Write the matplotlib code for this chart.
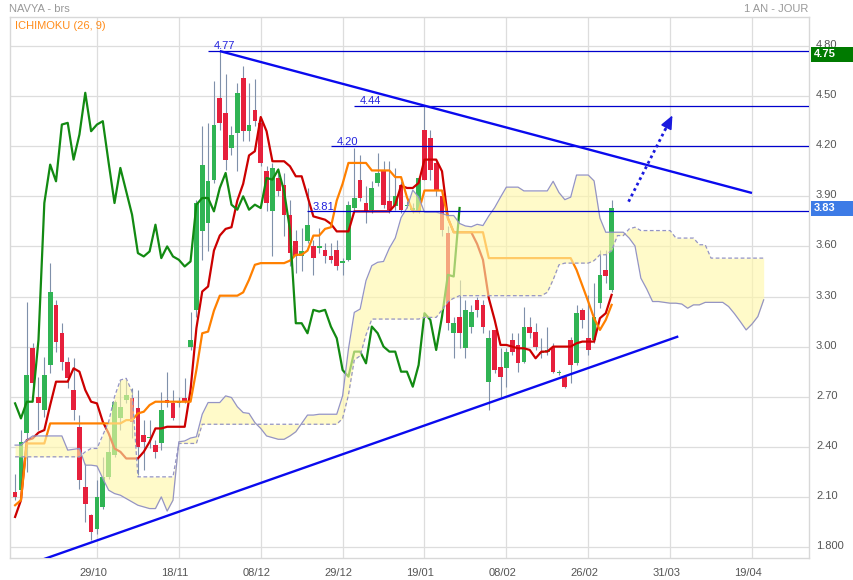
import numpy as np
import matplotlib
matplotlib.use('Agg')
import matplotlib.pyplot as plt
from matplotlib.patches import Rectangle
from matplotlib.transforms import ScaledTranslation

plt.rcParams['font.family'] = ['Liberation Sans', 'DejaVu Sans']

# ---------------- data ----------------
opens = [2.13, 2.14, 2.48, 2.99, 2.70, 2.62, 2.89, 3.25, 3.08, 2.91,
         2.74, 2.52, 2.16, 1.99, 1.91, 2.04, 2.22, 2.35, 2.57, 2.68,
         2.69, 2.63, 2.47, 2.45, 2.41, 2.42, 2.68, 2.66, 2.66, 2.69,
         3.00, 3.22, 3.69, 3.74, 4.00, 4.49, 4.40, 4.19, 4.28, 4.61,
         4.29, 4.42, 4.34, 4.05, 3.81, 4.01, 3.97, 3.79, 3.63, 3.54,
         3.63, 3.60, 3.59, 3.58, 3.54, 3.58, 3.50, 3.52, 3.83, 4.00,
         3.86, 3.82, 3.98, 4.05, 3.87, 3.84, 3.97, 3.84, 3.82, 3.81,
         4.30, 4.25, 4.10, 3.90, 3.68, 3.08, 3.18, 2.99, 3.12, 3.28,
         3.25, 2.79, 3.10, 2.88, 2.87, 3.04, 3.01, 2.91, 3.12, 3.09,
         2.96, 2.97, 3.00, 2.84, 2.82, 3.04, 2.90, 3.22, 3.05, 3.04,
         3.26, 3.46, 3.34]
highs = [2.24, 2.50, 3.27, 3.02, 2.82, 2.94, 3.50, 3.28, 3.14, 2.94,
         2.93, 2.59, 2.30, 2.00, 2.20, 2.34, 2.46, 2.68, 2.80, 2.80,
         2.75, 2.74, 2.56, 2.56, 2.44, 2.73, 2.85, 2.74, 2.70, 2.81,
         3.21, 3.88, 4.32, 4.34, 4.59, 4.77, 4.63, 4.32, 4.58, 4.68,
         4.58, 4.60, 4.36, 4.08, 4.10, 4.07, 4.04, 3.88, 3.70, 3.71,
         3.95, 3.64, 3.71, 3.62, 3.62, 3.64, 3.53, 3.87, 4.19, 4.15,
         3.96, 3.99, 4.16, 4.11, 4.11, 4.07, 3.99, 3.87, 3.86, 4.02,
         4.44, 4.30, 4.11, 3.92, 3.72, 3.18, 3.40, 3.28, 3.25, 3.30,
         3.28, 3.10, 3.10, 2.99, 2.99, 3.08, 3.08, 3.24, 3.18, 3.14,
         3.05, 3.12, 3.02, 2.86, 2.83, 3.06, 3.25, 3.23, 3.31, 3.38,
         3.58, 3.58, 3.88]
lows = [2.08, 2.12, 2.25, 2.75, 2.50, 2.58, 2.84, 2.97, 2.86, 2.75,
        2.56, 2.15, 1.95, 1.84, 1.88, 2.03, 2.21, 2.34, 2.50, 2.66,
        2.45, 2.23, 2.26, 2.39, 2.33, 2.38, 2.64, 2.56, 2.64, 2.66,
        2.98, 3.18, 3.52, 3.57, 3.98, 4.30, 4.06, 4.15, 4.05, 4.23,
        4.23, 4.32, 4.08, 3.81, 3.54, 3.90, 3.66, 3.48, 3.44, 3.45,
        3.62, 3.43, 3.56, 3.50, 3.50, 3.46, 3.43, 3.51, 3.82, 3.87,
        3.74, 3.80, 3.96, 3.83, 3.80, 3.82, 3.80, 3.83, 3.80, 3.80,
        4.00, 4.00, 3.90, 3.66, 3.10, 2.93, 2.99, 2.93, 3.08, 3.18,
        3.08, 2.62, 2.84, 2.70, 2.76, 2.95, 2.85, 2.90, 3.05, 2.98,
        2.93, 2.95, 2.84, 2.83, 2.75, 2.78, 2.89, 3.11, 2.95, 3.02,
        3.23, 3.38, 3.33]
closes = [2.10, 2.43, 2.83, 2.78, 2.66, 2.83, 3.33, 3.03, 2.91, 2.81,
          2.62, 2.20, 2.06, 1.89, 2.10, 2.22, 2.37, 2.67, 2.64, 2.71,
          2.55, 2.40, 2.43, 2.45, 2.37, 2.62, 2.66, 2.57, 2.67, 2.67,
          3.04, 3.86, 4.09, 3.99, 4.33, 4.34, 4.12, 4.27, 4.52, 4.29,
          4.33, 4.35, 4.10, 3.86, 4.07, 3.93, 3.79, 3.56, 3.54, 3.57,
          3.73, 3.53, 3.60, 3.54, 3.52, 3.48, 3.51, 3.85, 3.89, 3.89,
          3.81, 3.95, 4.04, 3.85, 3.82, 3.90, 3.82, 3.85, 3.83, 4.01,
          4.00, 4.06, 3.93, 3.70, 3.14, 3.14, 3.08, 3.22, 3.21, 3.22,
          3.12, 3.05, 2.86, 2.82, 2.97, 2.97, 2.90, 3.12, 3.08, 3.00,
          2.97, 2.97, 2.85, 2.85, 2.76, 2.89, 3.20, 3.16, 2.98, 3.18,
          3.43, 3.42, 3.83]

# Tenkan (9) and Kijun (26) lines
tenkan = [1.98, 2.08, 2.44, 2.45, 2.485, 2.50, 2.65, 2.79, 2.79, 2.79,
          2.87, 2.85, 2.74, 2.67, 2.66, 2.55, 2.48, 2.39, 2.37, 2.33,
          2.33, 2.33, 2.37, 2.43, 2.51, 2.51, 2.52, 2.52, 2.52, 2.52,
          2.74, 3.11, 3.33, 3.36, 3.575, 3.665, 3.705, 3.715, 3.875, 3.975,
          4.145, 4.17, 4.375, 4.29, 4.11, 4.11, 4.11, 4.08, 4.02, 4.02,
          3.90, 3.78, 3.77, 3.76, 3.735, 3.69, 3.69, 3.69, 3.81, 3.81,
          3.81, 3.81, 3.81, 3.81, 3.81, 3.85, 3.965, 3.95, 3.95, 3.98,
          4.12, 4.12, 4.12, 4.05, 3.77, 3.685, 3.685, 3.685, 3.685, 3.615,
          3.52, 3.29, 3.16, 3.01, 3.01, 3.00, 2.99, 2.99, 2.98, 2.93,
          2.97, 2.97, 3.00, 3.00, 3.00, 3.00, 3.02, 3.03, 3.03, 3.03,
          3.17, 3.20, 3.31]
kijun = [2.05, 2.08, 2.42, 2.42, 2.42, 2.42, 2.54, 2.54, 2.54, 2.54,
         2.54, 2.54, 2.54, 2.54, 2.54, 2.54, 2.54, 2.54, 2.54, 2.56,
         2.56, 2.60, 2.61, 2.65, 2.67, 2.67, 2.67, 2.67, 2.67, 2.67,
         2.67, 2.86, 3.08, 3.09, 3.215, 3.305, 3.305, 3.305, 3.305, 3.325,
         3.40, 3.49, 3.50, 3.50, 3.50, 3.50, 3.50, 3.515, 3.55, 3.55,
         3.575, 3.665, 3.665, 3.705, 3.715, 3.875, 3.975, 4.10, 4.10, 4.10,
         4.10, 4.055, 4.055, 4.055, 4.055, 4.015, 4.015, 3.895, 3.81, 3.81,
         3.935, 3.935, 3.935, 3.935, 3.77, 3.685, 3.685, 3.685, 3.685, 3.685,
         3.685, 3.53, 3.53, 3.53, 3.53, 3.53, 3.53, 3.53, 3.53, 3.53,
         3.53, 3.53, 3.53, 3.53, 3.53, 3.53, 3.46, 3.365, 3.27, 3.17,
         3.10, 3.16, 3.25]

# Senkou span A before the first drawn (tenkan+kijun)/2 value
senkou_a_early = [2.41, 2.41, 2.44, 2.465, 2.465, 2.465, 2.465, 2.465, 2.465, 2.38,
                  2.385, 2.39, 2.29, 2.29, 2.285, 2.21, 2.14, 2.12, 2.11, 2.09,
                  2.07, 2.05, 2.04, 2.03, 2.03, 2.10]
# Senkou span B (whole drawn range, incl. 26 periods ahead)
senkou_b = [2.34, 2.34, 2.34, 2.34, 2.34, 2.34, 2.34, 2.34, 2.34, 2.34,
            2.34, 2.34, 2.37, 2.39, 2.39, 2.47, 2.55, 2.70, 2.80, 2.81,
            2.73, 2.22, 2.22, 2.22, 2.22, 2.22, 2.22, 2.22, 2.42, 2.42,
            2.42, 2.42, 2.535, 2.535, 2.535, 2.535, 2.535, 2.535, 2.535, 2.535,
            2.535, 2.535, 2.535, 2.535, 2.535, 2.535, 2.535, 2.535, 2.535, 2.535,
            2.535, 2.535, 2.535, 2.535, 2.535, 2.535, 2.57, 2.71, 2.92, 2.945,
            3.07, 3.165, 3.165, 3.165, 3.165, 3.165, 3.165, 3.165, 3.165, 3.165,
            3.175, 3.175, 3.175, 3.22, 3.27, 3.29, 3.305, 3.305, 3.305, 3.305,
            3.305, 3.305, 3.305, 3.305, 3.305, 3.305, 3.305, 3.305, 3.305, 3.305,
            3.305, 3.325, 3.40, 3.49, 3.50, 3.50, 3.50, 3.50, 3.50, 3.515,
            3.55, 3.55, 3.575, 3.665, 3.665, 3.705, 3.715, 3.695, 3.695, 3.695,
            3.695, 3.695, 3.695, 3.65, 3.65, 3.65, 3.65, 3.61, 3.61, 3.53,
            3.53, 3.53, 3.53, 3.53, 3.53, 3.53, 3.53, 3.53, 3.53]

# horizontal support / resistance levels and where they start (bar index)
levels = [4.77, 4.44, 4.20, 3.81]
level_starts = [33.0, 58.0, 54.0, 49.9]

# trend lines (bar index, price)
upper_trend_x = [35, 126]
upper_trend_y = [4.77, 3.92]
lower_trend_x = [0, 113.4]
lower_trend_y = [1.667, 3.061]

# dotted projection arrow
arrow_x = [104.9, 112.4]
arrow_y = [3.868, 4.385]

tick_pos = [14, 28, 42, 56, 70, 84, 98, 112, 126]
tick_labels = ['29/10', '18/11', '08/12', '29/12', '19/01', '08/02', '26/02', '31/03', '19/04']
ytick_vals = [1.8, 2.1, 2.4, 2.7, 3.0, 3.3, 3.6, 3.9, 4.2, 4.5, 4.8]
ytick_labels = ['1.800', '2.10', '2.40', '2.70', '3.00', '3.30', '3.60', '3.90', '4.20', '4.50', '4.80']

last_tag = 3.83
high_tag = 4.75

# ---------------- figure ----------------
W, H = 854, 580
fig = plt.figure(figsize=(W / 100, H / 100), dpi=100)
ax = fig.add_axes([10 / W, 22 / H, 799 / W, 541 / H])

o = np.array(opens); h = np.array(highs); l = np.array(lows); c = np.array(closes)
n = len(c)
idx = np.arange(n)
tk = np.array(tenkan); kj = np.array(kijun)
span_a = np.concatenate([np.array(senkou_a_early), (tk + kj) / 2])
span_b = np.array(senkou_b)
jj = np.arange(len(span_b))

xmin, xmax = -0.87, 135.75
ax.set_xlim(xmin, xmax)
ax.set_ylim(1.734, 4.974)

# grid
ax.set_xticks(tick_pos)
ax.set_xticklabels(tick_labels)
ax.set_yticks(ytick_vals)
ax.set_yticklabels(ytick_labels)
ax.grid(True, color='#dddddd', lw=0.9, zorder=0)
ax.set_axisbelow(True)
for sp in ax.spines.values():
    sp.set_color('#d8d8d8')
    sp.set_linewidth(1.0)
ax.yaxis.tick_right()
ax.tick_params(axis='y', length=0, pad=5, labelsize=8, labelcolor='#555555')
ax.tick_params(axis='x', length=0, pad=7, labelsize=8, labelcolor='#555555')
xoffset = ScaledTranslation(-4 / 100, 0, fig.dpi_scale_trans)
for lbl in ax.get_xticklabels():
    lbl.set_transform(lbl.get_transform() + xoffset)
yoffset = ScaledTranslation(0, 2 / 100, fig.dpi_scale_trans)
for t in ax.yaxis.get_major_ticks():
    t.label2.set_transform(t.label2.get_transform() + yoffset)

# candles
green, red, wick = '#30b454', '#e6203c', '#7f90aa'
up = c >= o
ax.vlines(idx, l, h, color=wick, lw=0.8, zorder=2)
body_bottom = np.minimum(o, c)
body_h = np.maximum(np.abs(c - o), 0.008)
ax.bar(idx, body_h, bottom=body_bottom, width=0.8,
       color=np.where(up, green, red), linewidth=0, zorder=3)

# ichimoku lines
ax.plot(idx, tk, color='#cc0000', lw=1.6, zorder=4)
ax.plot(idx, kj, color='#ff8000', lw=1.6, zorder=4)
ax.plot(idx[:n - 26], c[26:], color='#128a12', lw=1.6, zorder=4)

# cloud
ax.fill_between(jj, span_a, span_b, color='#fff8a8', alpha=0.62, lw=0, zorder=5)
ax.plot(jj, span_a, color='#9494c4', lw=0.9, zorder=6)
ax.plot(jj, span_b, color='#9494c4', lw=0.9, ls=(0, (3, 2)), zorder=6)

# levels
for lv, st in zip(levels, level_starts):
    ax.hlines(lv, st, xmax, color='#0000cc', lw=0.9, zorder=7)
    ax.text(st + 0.95, lv + 0.01, f'{lv:.2f}', color='#2222dd', fontsize=8,
            ha='left', va='baseline', zorder=8)

# trend lines
ax.plot(upper_trend_x, upper_trend_y, color='#0a0aee', lw=1.7, zorder=7,
        solid_capstyle='butt')
ax.plot(lower_trend_x, lower_trend_y, color='#0a0aee', lw=1.7, zorder=7,
        solid_capstyle='butt')

# dotted arrow
ax.plot([arrow_x[0], arrow_x[0] + 0.9 * (arrow_x[1] - arrow_x[0])],
        [arrow_y[0], arrow_y[0] + 0.9 * (arrow_y[1] - arrow_y[0])],
        ls=(0, (1, 1.2)), color='#1a1ade', lw=2.0, zorder=7)
ax.annotate('', xy=(arrow_x[1], arrow_y[1]),
            xytext=(arrow_x[0] + 0.85 * (arrow_x[1] - arrow_x[0]),
                    arrow_y[0] + 0.85 * (arrow_y[1] - arrow_y[0])),
            arrowprops=dict(arrowstyle='-|>,head_length=0.8,head_width=0.35',
                            color='#1a1ade', lw=1.2, shrinkA=0, shrinkB=0),
            zorder=8)

# price tags on the right axis
yax = ax.get_yaxis_transform()
for val, col in [(high_tag, '#007a00'), (last_tag, '#3d7be6')]:
    ax.add_patch(Rectangle((1.0025, val - 0.045), 45 / 799, 0.09, transform=yax,
                           facecolor=col, edgecolor='none', clip_on=False, zorder=10))
    ax.text(1.0065, val, f'{val:.2f}', transform=yax, color='white', fontsize=8,
            fontweight='bold', ha='left', va='center', clip_on=False, zorder=11)

# header texts
fig.text(9 / W, 1 - 9 / H, 'NAVYA - brs', color='#999999', fontsize=8,
         ha='left', va='center')
fig.text(808 / W, 1 - 9 / H, '1 AN - JOUR', color='#999999', fontsize=8,
         ha='right', va='center')
fig.text(15 / W, 1 - 26 / H, 'ICHIMOKU (26, 9)', color='#ff8c1a', fontsize=8,
         ha='left', va='center')

fig.savefig('out.png', dpi=100)
